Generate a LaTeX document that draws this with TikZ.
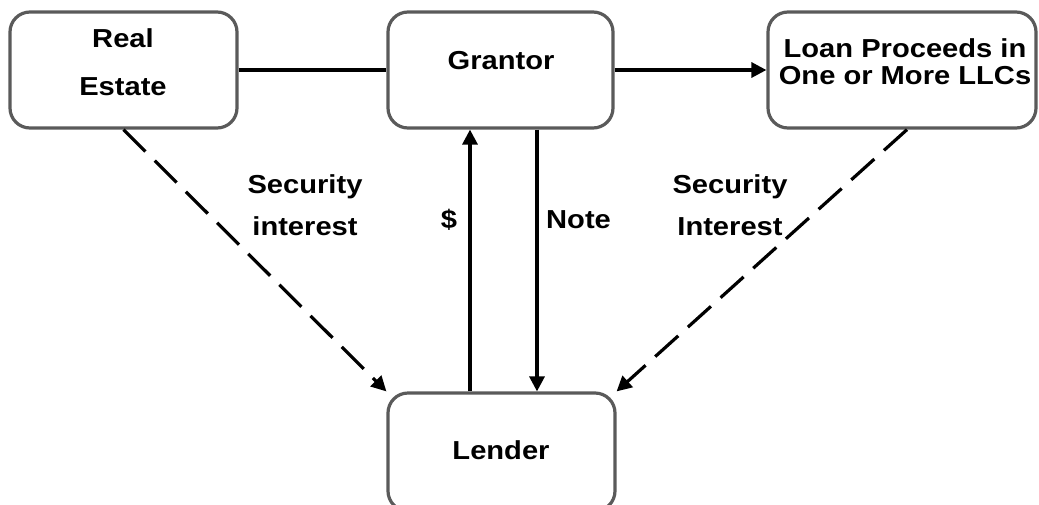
\documentclass[tikz,border=0pt]{standalone}
\usepackage{fontspec}
\setmainfont{Liberation Sans}[FakeStretch=1.12]
\usetikzlibrary{arrows.meta}
\definecolor{boxgray}{HTML}{5A5A5A}
\begin{document}
\begin{tikzpicture}[x=1pt,y=-1pt,
  box/.style={draw=boxgray, line width=3.2pt, rounded corners=20pt, fill=white, inner sep=0pt},
  txt/.style={anchor=base, inner sep=0pt, font=\fontsize{26}{30}\selectfont\bfseries, text=black},
  conn/.style={line width=3.2pt, draw=black},
  arr/.style={conn, -{Triangle[length=15pt,width=15pt]}},
  darr/.style={arr, dash pattern=on 31pt off 13pt}]
\useasboundingbox (0,0) rectangle (1039,504);
% boxes
\node[box, minimum width=227pt, minimum height=116pt] (re) at (123.5,70) {};
\node[box, minimum width=225pt, minimum height=116pt] (gr) at (500.5,70) {};
\node[box, minimum width=268pt, minimum height=116pt] (loan) at (902,70) {};
\node[box, minimum width=227pt, minimum height=118pt] (ld) at (501.5,452) {};
% box texts
\node[txt] (reT1) at (123,47) {Real};
\node[txt] (reT2) at (123,95) {Estate};
\node[txt] (grT) at (501,69) {Grantor};
\node[txt] (loanT1) at (905,57) {Loan Proceeds in};
\node[txt] (loanT2) at (905,84) {One or More LLCs};
\node[txt] (ldT) at (501,459) {Lender};
% helper coordinates
\coordinate (upx) at (470,0);
\coordinate (dnx) at (537,0);
% connectors
\draw[conn] (re.east) -- (gr.west);
\draw[arr] (gr.east) -- (loan.west);
\draw[arr] (ld.north -| upx) -- (gr.south -| upx);
\draw[arr] (gr.south -| dnx) -- (ld.north -| dnx);
\draw[darr] (re.south) -- (ld.north west);
\draw[darr] ([xshift=5pt]loan.south) -- (ld.north east);
% labels
\node[txt] (s1a) at (305,193) {Security};
\node[txt] (s1b) at (305,235) {interest};
\node[txt] (s2a) at (730,193) {Security};
\node[txt] (s2b) at (730,235) {Interest};
\node[txt] (dol) at (449,228) {\$};
\node[txt, anchor=base west] (note) at (546,228) {Note};
\end{tikzpicture}
\end{document}
